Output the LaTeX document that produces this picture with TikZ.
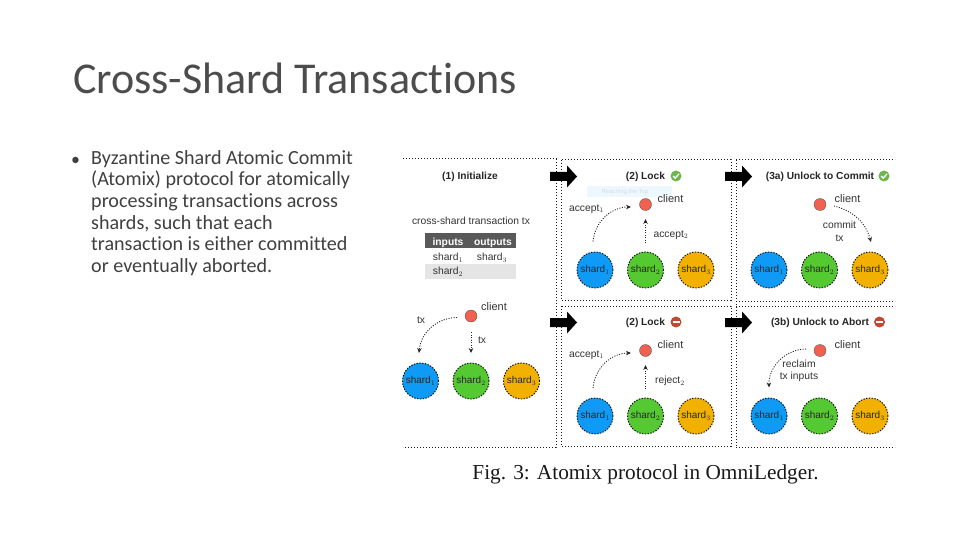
\documentclass[tikz,border=0pt]{standalone}
\usepackage{fontspec}
\setmainfont{Carlito}[Ligatures=NoCommon]
\setsansfont{Liberation Sans}
\newfontfamily\capfont{Liberation Serif}
\usetikzlibrary{arrows.meta,positioning}
\definecolor{shardblue}{HTML}{0F9BF5}
\definecolor{shardgreen}{HTML}{55C932}
\definecolor{shardyellow}{HTML}{F2B100}
\definecolor{clientred}{HTML}{F0614F}
\definecolor{okgreen}{HTML}{6DB84C}
\definecolor{nored}{HTML}{BE4A32}
\tikzset{
	shardnode/.style={circle, draw=black, dash pattern=on 1.4pt off 1.4pt, line width=0.9pt, minimum size=36pt, inner sep=0pt, font=\sffamily\fontsize{10}{11}\selectfont, text=black!85},
	clientnode/.style={circle, draw=black!70, line width=0.3pt, fill=clientred, minimum size=12pt, inner sep=0pt},
	labelnode/.style={font=\sffamily\fontsize{10.3}{12.5}\selectfont, text=black!80, align=center, inner sep=0pt},
	clienttxt/.style={font=\sffamily\fontsize{11}{12}\selectfont, text=black!80, anchor=west, inner sep=0pt},
	headnode/.style={font=\sffamily\bfseries\fontsize{10.2}{12}\selectfont, text=black!85, inner sep=0pt},
	panel/.style={draw=black!90, dash pattern=on 1.4pt off 1.6pt, line width=1pt},
	msgarrow/.style={dash pattern=on 1pt off 1.5pt, line width=0.9pt, black!85, -{Stealth[length=5pt,width=4.5pt]}},
	bigarrow/.style={draw=none, fill=black},
}
\newcommand{\shardrow}[3]{%
	\node[shardnode, fill=shardblue] (#1a) at (#2,#3) {shard$_1$};
	\node[shardnode, fill=shardgreen] (#1b) at (#2+50.5,#3) {shard$_2$};
	\node[shardnode, fill=shardyellow] (#1c) at (#2+101,#3) {shard$_3$};
}
\newcommand{\bigarrowat}[2]{%
	\fill[bigarrow] (#1,#2-4.5) -- (#1+17,#2-4.5) -- (#1+17,#2-11) -- (#1+27,#2) -- (#1+17,#2+11) -- (#1+17,#2+4.5) -- (#1,#2+4.5) -- cycle;
}
\newcommand{\okmark}[2]{%
	\fill[okgreen] (#1,#2) circle (5.5);
	\draw[white, line width=1.3pt] (#1-2.8,#2) -- (#1-0.8,#2+2.2) -- (#1+3,#2-2.2);
}
\newcommand{\nomark}[2]{%
	\fill[nored] (#1,#2) circle (5.5);
	\fill[white] (#1-3.5,#2-1.2) rectangle (#1+3.5,#2+1.2);
}
\begin{document}
\begin{tikzpicture}[x=1pt, y=-1pt]
	\useasboundingbox (0,0) rectangle (960,540);
	\fill[white] (0,0) rectangle (960,540);
	% Title and bullet text
	\node[anchor=base west, inner sep=0pt, font=\fontsize{44}{48}\selectfont, text=black!70] (title) at (73,94) {Cross-Shard Transactions};
	\node[anchor=base west, inner sep=0pt, font=\fontsize{18}{18}\selectfont, text=black!75] (bullet) at (71,165.5) {•};
	\node[anchor=north west, inner sep=0pt, align=left, font=\fontsize{20.1}{21.7}\selectfont, text=black!75] (body) at (91,150) {Byzantine Shard Atomic Commit\\(Atomix) protocol for atomically\\processing transactions across\\shards, such that each\\transaction is either committed\\or eventually aborted.};
	% Panels
	\draw[panel] (403,159) -- (556,159) -- (556,447) -- (403,447);
	\draw[panel] (561,160) rectangle (731,300);
	\draw[panel] (561,306) rectangle (731,446);
	\draw[panel] (736,160) -- (895,160);
	\draw[panel] (736,306) -- (895,306);
	\draw[panel] (736,301) -- (895,301);
	\draw[panel] (736,447) -- (895,447);
	\draw[panel] (736,160) -- (736,447);
	% Thick arrows between panels
	\bigarrowat{550}{176.5}
	\bigarrowat{725}{176.5}
	\bigarrowat{550}{322.5}
	\bigarrowat{725}{322.5}
	% (1) Initialize
	\node[headnode] (headinit) at (470,176.5) {(1) Initialize};
	\node[labelnode] (txtitle) at (471,221) {cross-shard transaction tx};
	\fill[black!65] (425,233) rectangle (516,248);
	\fill[black!10] (425,264) rectangle (516,279);
	\node[labelnode, font=\sffamily\bfseries\fontsize{10.3}{12}\selectfont, text=white] (inputs) at (448,243) {inputs};
	\node[labelnode, font=\sffamily\bfseries\fontsize{10.3}{12}\selectfont, text=white] (outputs) at (493,243) {outputs};
	\node[labelnode] (inone) at (448,258) {shard$_1$};
	\node[labelnode] (outthree) at (492,258) {shard$_3$};
	\node[labelnode] (intwo) at (448,272) {shard$_2$};
	\node[clientnode] (clienta) at (471,316) {};
	\node[clienttxt] (clientatxt) at (481,306.5) {client};
	\shardrow{init}{420.5}{381}
	\coordinate (txa) at (457,317.5);
	\coordinate (txb) at (471,332);
	\draw[msgarrow] (txa) to[bend right=42] (419,353);
	\draw[msgarrow] (txb) -- (471,353);
	\node[labelnode] (txone) at (421,320) {tx};
	\node[labelnode] (txtwo) at (482,340.5) {tx};
	% (2) Lock, accepted
	\node[headnode] (headlock) at (645.5,176.5) {(2) Lock};
	\okmark{676}{176}
	\fill[blue!30!cyan!8] (587,186) rectangle (672,197);
	\node[font=\sffamily\fontsize{6}{7}\selectfont, text=black!15, inner sep=0pt] (faint) at (625,192) {Reaching the Top};
	\node[clientnode] (clientb) at (645.5,204.5) {};
	\node[clienttxt] (clientbtxt) at (657.5,198.5) {client};
	\shardrow{lock}{595}{270}
	\coordinate (accstart) at (593,241.5);
	\coordinate (accend) at (631,207);
	\draw[msgarrow] (accstart) to[bend left=42] (accend);
	\coordinate (acctwo) at (645.5,243);
	\draw[msgarrow] (acctwo) -- (645.5,219);
	\node[labelnode] (acconetxt) at (586.5,209) {accept$_1$};
	\node[labelnode] (acctwotxt) at (671,235) {accept$_2$};
	% (3a) Unlock to Commit
	\node[headnode] (headcommit) at (820,177) {(3a) Unlock to Commit};
	\okmark{884}{176}
	\node[clientnode] (clientc) at (820,204.5) {};
	\node[clienttxt] (clientctxt) at (834.5,198.5) {client};
	\shardrow{commit}{769}{270}
	\coordinate (comstart) at (834,206);
	\draw[msgarrow] (comstart) to[bend left=30] (871,242);
	\node[labelnode] (comtxt) at (839.5,231.5) {commit\\tx};
	% (2) Lock, rejected
	\node[headnode] (headlockb) at (645.5,322.5) {(2) Lock};
	\nomark{676}{322}
	\node[clientnode] (clientd) at (645.5,350.5) {};
	\node[clienttxt] (clientdtxt) at (657.5,344.5) {client};
	\shardrow{rej}{595}{416}
	\coordinate (rejstart) at (593,388);
	\coordinate (rejend) at (631,353);
	\draw[msgarrow] (rejstart) to[bend left=42] (rejend);
	\coordinate (rejtwo) at (645.5,389);
	\draw[msgarrow] (rejtwo) -- (645.5,365);
	\node[labelnode] (rejonetxt) at (586.5,355) {accept$_1$};
	\node[labelnode] (rejtwotxt) at (670,381) {reject$_2$};
	% (3b) Unlock to Abort
	\node[headnode] (headabort) at (820,323) {(3b) Unlock to Abort};
	\nomark{879.5}{322}
	\node[clientnode] (cliente) at (820,350.5) {};
	\node[clienttxt] (clientetxt) at (834.5,344.5) {client};
	\shardrow{abort}{769}{416}
	\coordinate (recstart) at (806,349);
	\draw[msgarrow] (recstart) to[bend right=45] (769,387.5);
	\node[labelnode] (rectxt) at (799,371) {reclaim\\tx inputs};
	% Caption
	\node[anchor=base, inner sep=0pt, font=\capfont\fontsize{21.3}{22}\selectfont, text=black!90] (caption) at (645.5,479) {Fig. 3: Atomix protocol in OmniLedger.};
\end{tikzpicture}
\end{document}
